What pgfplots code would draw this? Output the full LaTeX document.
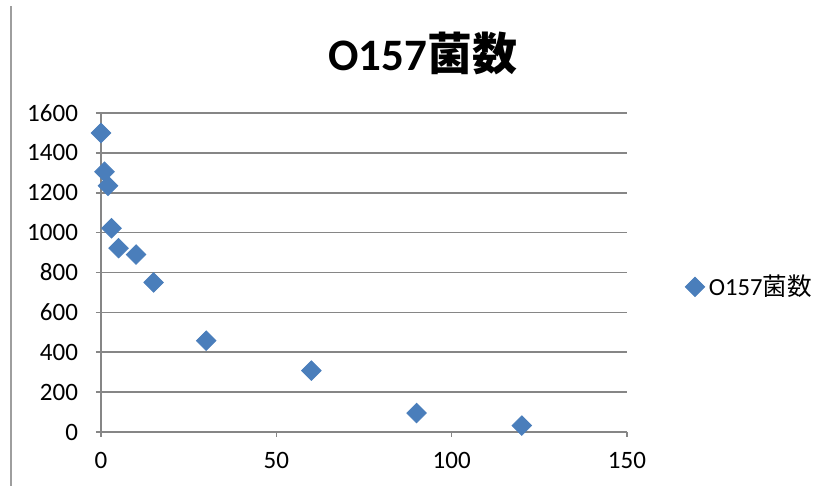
\documentclass[border=0pt]{standalone}
\usepackage{pgfplots}
\pgfplotsset{compat=1.18}
\usepackage{fontspec}
\setmainfont{Carlito}
\newfontfamily\cjk{Noto Sans CJK JP}
\definecolor{markblue}{RGB}{74,126,187}
\definecolor{gridgray}{RGB}{134,134,134}
\begin{document}
\begin{tikzpicture}
\useasboundingbox (0,0) rectangle (416pt,243pt);
\draw[gridgray!80, line width=1pt] (5.5pt,0pt) -- (5.5pt,240pt);
\node[font=\fontsize{22.5}{26}\selectfont\bfseries] at (211.5pt,216.5pt) {O157{\cjk 菌数}};
\begin{axis}[
  at={(50.5pt,27pt)}, anchor=south west,
  scale only axis, width=263pt, height=159.5pt,
  xmin=0, xmax=150, ymin=0, ymax=1600,
  xtick={0,50,100,150}, ytick={0,200,...,1600},
  axis x line=bottom, axis y line=left,
  axis line style={-, gridgray, line width=0.8pt},
  ymajorgrids, grid style={gridgray, line width=0.8pt},
  tick align=outside, major tick length=2.5pt,
  tick style={gridgray, line width=0.8pt},
  ticklabel style={font=\fontsize{12.5}{14}\selectfont},
  yticklabel style={xshift=-5.5pt},
  xticklabel style={yshift=-4pt},
  /pgf/number format/assume math mode=true,
  /pgf/number format/1000 sep={},
  clip=false,
  legend style={at={(1.11,0.455)}, anchor=west, draw=none, fill=none,
    font=\fontsize{12.3}{14}\selectfont, inner sep=0pt},
  legend cell align=left,
]
\addplot[only marks, mark=square*, mark size=3.45pt,
  mark options={rotate=45, fill=markblue, draw=markblue}] coordinates {
(0,1500) (1,1305) (2,1235) (3,1022) (5,922) (10,890) (15,750)
(30,458) (60,308) (90,95) (120,32)
};
\addlegendentry{O157{\cjk 菌数}}
\end{axis}
\end{tikzpicture}
\end{document}
